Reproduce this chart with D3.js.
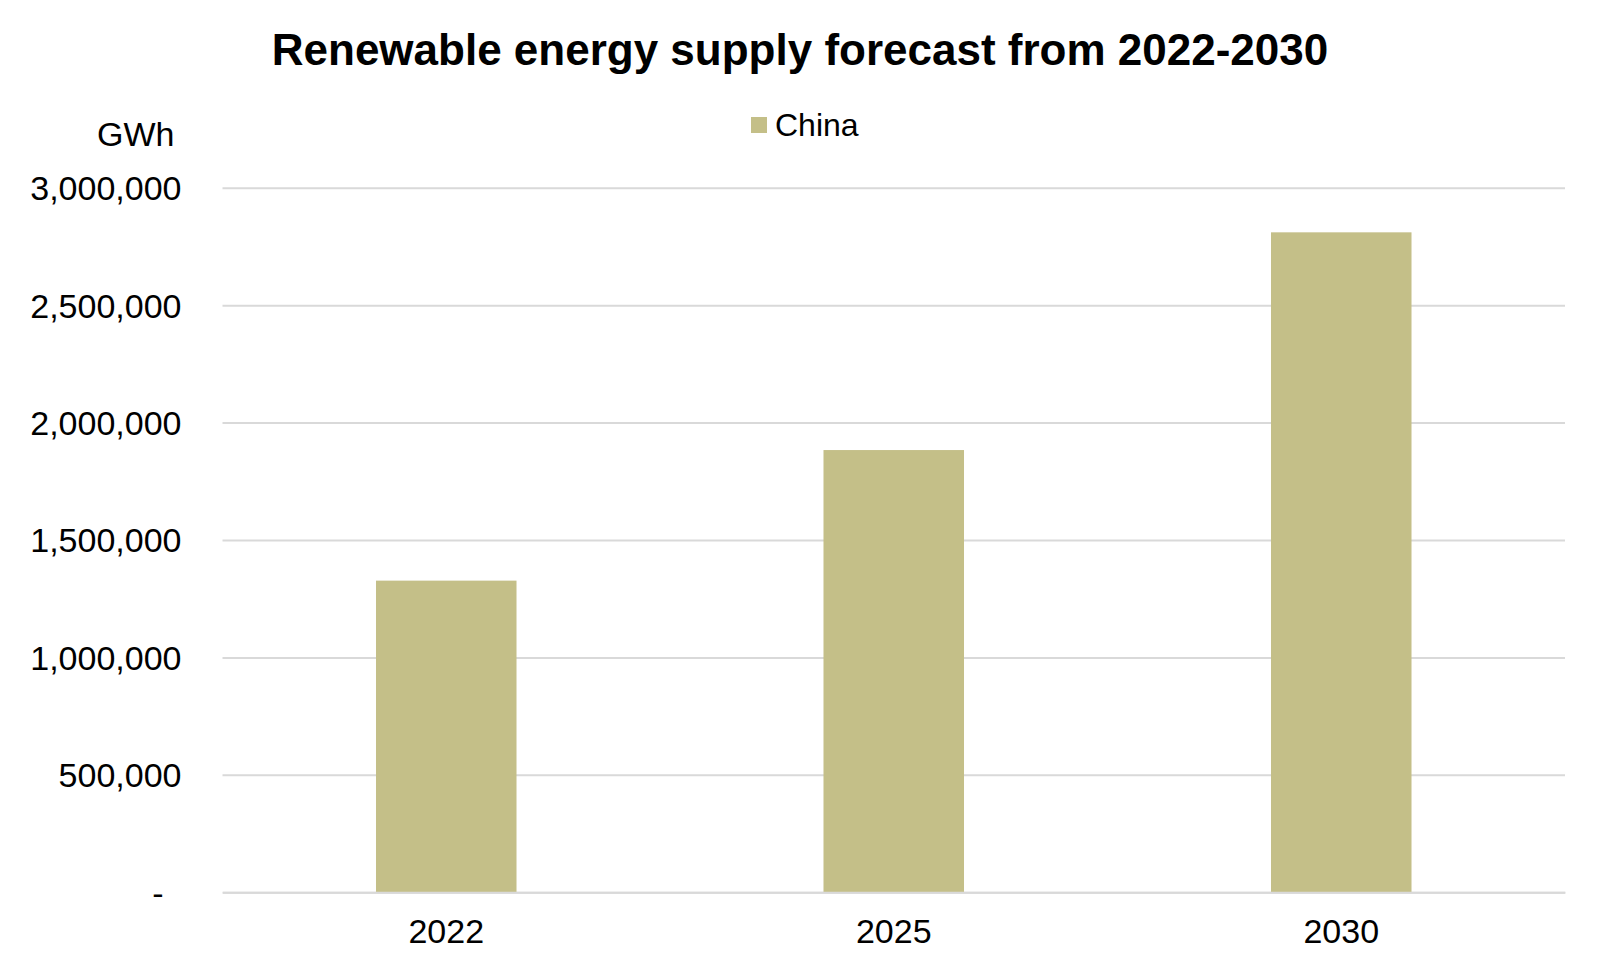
<!DOCTYPE html>
<html><head><meta charset="utf-8">
<script src="https://cdn.jsdelivr.net/npm/d3@7"></script>
<style>body{margin:0;background:#fff}svg{display:block;font-family:"Liberation Sans",Arial,sans-serif}</style>
</head><body><svg id="c" width="1600" height="972"></svg>
<script>
const categories = ["2022", "2025", "2030"];
const values = [1327000, 1883000, 2810000];
const seriesName = "China";
const yTicks = [0, 500000, 1000000, 1500000, 2000000, 2500000, 3000000];
const title = "Renewable energy supply forecast from 2022-2030";
const unit = "GWh";

const svg = d3.select("#c");
const m = {left: 222.5, right: 1565, top: 187.7, bottom: 892.3};
const x = d3.scaleBand().domain(categories).range([m.left, m.right]).paddingInner(0.686).paddingOuter(0.343);
const y = d3.scaleLinear().domain([0, 3000000]).range([m.bottom, m.top]);
const color = "#c4bf88";

svg.append("text").attr("x", 800).attr("y", 65).attr("text-anchor", "middle")
  .attr("font-size", 44).attr("font-weight", "bold").attr("fill", "#000").text(title);

// gridlines
const yAxis = d3.axisLeft(y).tickValues(yTicks).tickSize(-(m.right - m.left)).tickPadding(41)
  .tickFormat(d => d === 0 ? "-" : d3.format(",")(d));
const gy = svg.append("g").attr("transform", `translate(${m.left},0)`).call(yAxis);
gy.select(".domain").remove();
gy.selectAll(".tick line").attr("stroke", "#d9d9d9").attr("stroke-width", 2);
gy.selectAll(".tick text").attr("font-size", 34).attr("fill", "#000").attr("dy", "0.35em");
gy.selectAll(".tick text").filter(d => d === 0).attr("dx", -18);

svg.append("g").selectAll("rect").data(values).join("rect")
  .attr("x", (d, i) => x(categories[i])).attr("width", x.bandwidth())
  .attr("y", d => y(d)).attr("height", d => y(0) - y(d)).attr("fill", color);

const xAxis = d3.axisBottom(x).tickSize(0).tickPadding(27);
const gx = svg.append("g").attr("transform", `translate(0,${m.bottom})`).call(xAxis);
gx.select(".domain").attr("stroke", "#d9d9d9").attr("stroke-width", 2);
gx.selectAll(".tick text").attr("font-size", 34).attr("fill", "#000");

svg.append("text").attr("x", 174.5).attr("y", 133.7).attr("dy", "0.35em").attr("text-anchor", "end")
  .attr("font-size", 34).attr("fill", "#000").text(unit);

const lg = svg.append("g").attr("transform", "translate(751,117)");
lg.append("rect").attr("width", 16).attr("height", 16).attr("fill", color);
lg.append("text").attr("x", 24).attr("y", 8).attr("dy", "0.35em").attr("font-size", 32).attr("fill", "#000").text(seriesName);
</script></body></html>
